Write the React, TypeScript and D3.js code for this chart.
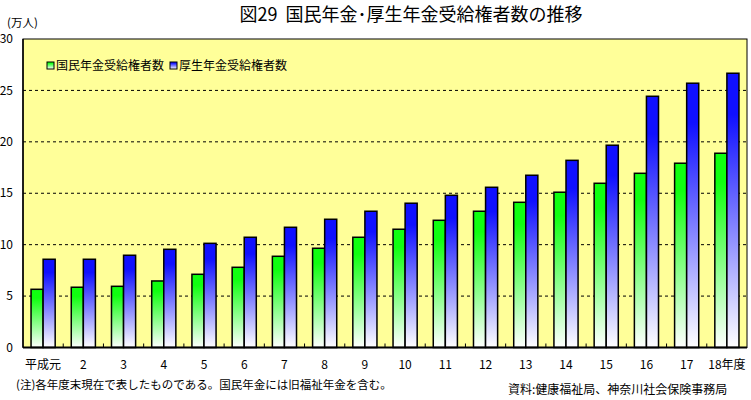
import React from "react";
import * as d3 from "d3";

const categories = ["平成元","2","3","4","5","6","7","8","9","10","11","12","13","14","15","16","17","18年度"];
const seriesNames = ["国民年金受給権者数","厚生年金受給権者数"];
const nationalPension = [5.66,5.86,5.95,6.47,7.12,7.8,8.87,9.65,10.72,11.5,12.37,13.25,14.12,15.1,15.97,16.94,17.92,18.89];
const employeesPension = [8.58,8.58,8.97,9.55,10.13,10.72,11.69,12.47,13.25,14.03,14.8,15.58,16.75,18.2,19.67,24.43,25.7,26.67];
const yTicks = [0,5,10,15,20,25,30];
const seriesColors = ["#10ff10","#1010ff"];
const gradIds = ["gGreen","gBlue"];

const W = 751, H = 400;
const L = 23, R = 747, T = 39, B = 347.5;
const FONT = "'Noto Sans CJK JP', sans-serif";

export default function App() {
  const x = d3.scaleBand<string>().domain(categories).range([L, R]).padding(0);
  const bw = x.bandwidth();
  const x1 = d3.scaleBand<string>().domain(seriesNames).range([bw * 0.2, bw * 0.8]).padding(0);
  const y = d3.scaleLinear().domain([0, 30]).range([B, T]);
  const data = [nationalPension, employeesPension];

  return (
    <svg width={W} height={H} style={{ position: "absolute", left: 0, top: 0, background: "#fff" }} fontFamily={FONT}>
      <defs>
        {seriesColors.map((c, i) => (
          <linearGradient key={i} id={gradIds[i]} x1="0" y1="0" x2="0" y2="1">
            <stop offset="0" stopColor={c} />
            <stop offset="0.15" stopColor={c} stopOpacity={1} />
            <stop offset="1" stopColor="#ffffff" />
          </linearGradient>
        ))}
      </defs>
      <text x={411} y={21} textAnchor="middle" fontSize={18} fontWeight="normal" fill="#000">{"図29\u00a0\u00a0国民年金･厚生年金受給権者数の推移"}</text>
      <text x={7} y={27} fontSize={11.5} fill="#000">(万人)</text>

      <rect x={L} y={T} width={R - L} height={B - T} fill="#ffff99" stroke="#000" strokeWidth={1} />

      {yTicks.filter(t => t > 0 && t < 30).map(t => (
        <line key={t} x1={L} x2={R} y1={y(t)} y2={y(t)} stroke="#000" strokeWidth={1} strokeDasharray="3,3" />
      ))}

      {categories.map((c, ci) => (
        <g key={c}>
          {data.map((arr, si) => (
            <rect key={si}
              x={(x(c) as number) + (x1(seriesNames[si]) as number)}
              y={y(arr[ci])}
              width={x1.bandwidth()}
              height={B - y(arr[ci])}
              fill={`url(#${gradIds[si]})`}
              stroke="#000" strokeWidth={1.5} />
          ))}
        </g>
      ))}

      {categories.slice(1).map(c => (
        <line key={"t" + c} x1={x(c) as number} x2={x(c) as number} y1={B} y2={B - 4} stroke="#000" strokeWidth={1} />
      ))}

      <line x1={L} x2={L} y1={T} y2={B} stroke="#000" strokeWidth={1.5} />
      <line x1={L} x2={R} y1={B} y2={B} stroke="#000" strokeWidth={2} />

      {yTicks.map(t => (
        <text key={"y" + t} x={13} y={y(t)} dy="0.35em" textAnchor="end" fontSize={12} fill="#000">{t}</text>
      ))}

      {categories.map(c => (
        <text key={"x" + c} x={(x(c) as number) + bw / 2} y={369} textAnchor="middle" fontSize={12} fill="#000">{c}</text>
      ))}

      {seriesNames.map((s, i) => {
        const lx = i === 0 ? 47 : 170;
        return (
          <g key={s}>
            <rect x={lx} y={62} width={7} height={7} fill={`url(#${gradIds[i]})`} stroke="#000" strokeWidth={1} />
            <text x={lx + 9} y={65.5} dy="0.35em" fontSize={12} fill="#000">{s}</text>
          </g>
        );
      })}

      <text x={16} y={389} fontSize={11.5} fill="#000">(注)各年度末現在で表したものである。国民年金には旧福祉年金を含む。</text>
      <text x={508} y={394} fontSize={12} fill="#000">資料:健康福祉局、神奈川社会保険事務局</text>
    </svg>
  );
}
